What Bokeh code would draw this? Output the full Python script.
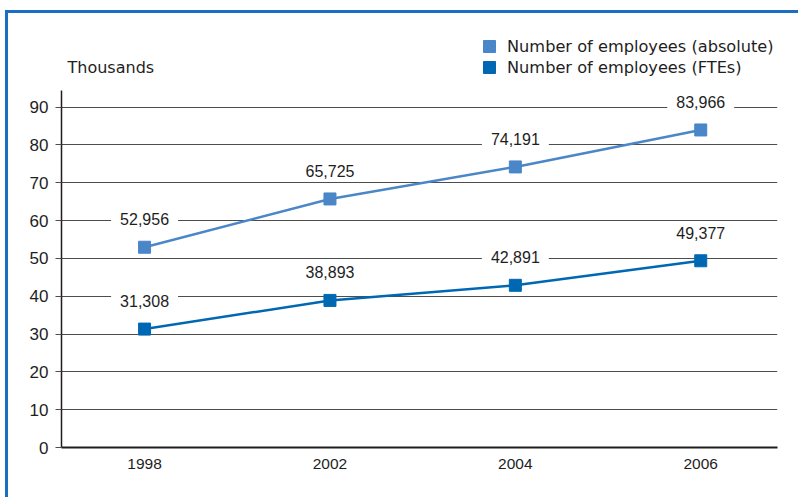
from bokeh.plotting import figure
from bokeh.models import (ColumnDataSource, Label, Legend, LegendItem,
                          FixedTicker, Range1d, InlineStyleSheet)
from bokeh.embed import file_html
from bokeh.resources import INLINE

years = ["1998", "2002", "2004", "2006"]
absolute = [52.956, 65.725, 74.191, 83.966]   # thousands
fte = [31.308, 38.893, 42.891, 49.377]         # thousands
y_ticks = [0, 10, 20, 30, 40, 50, 60, 70, 80, 90]
series_names = ["Number of employees (absolute)", "Number of employees (FTEs)"]
unit_label = "Thousands"

LIGHT = "#4a86c8"
DARK = "#0068b3"
TEXT = "#1e1e1e"
FRAME_BLUE = "#1a6fc4"

idx = list(range(len(years)))
src_abs = ColumnDataSource(dict(x=idx, y=absolute))
src_fte = ColumnDataSource(dict(x=idx, y=fte))

p = figure(width=798, height=497,
           x_range=Range1d(-0.448, 3.414), y_range=Range1d(0, 118.2),
           output_backend="svg", toolbar_location=None,
           min_border_left=61, min_border_right=21,
           min_border_top=0, min_border_bottom=50)
p.border_fill_color = None
p.background_fill_color = None
p.outline_line_color = None
p.stylesheets = [InlineStyleSheet(css=f""":host {{
  background:
    linear-gradient({FRAME_BLUE}, {FRAME_BLUE}) 5px 10px / 100% 3px no-repeat,
    linear-gradient({FRAME_BLUE}, {FRAME_BLUE}) 5px 10px / 3px 100% no-repeat,
    white;
}}""")]

# grid
p.xgrid.grid_line_color = None
p.ygrid.ticker = FixedTicker(ticks=y_ticks)
p.ygrid.grid_line_color = "#4d4d4d"
p.ygrid.grid_line_width = 1

# y axis
p.yaxis.ticker = FixedTicker(ticks=y_ticks)
p.yaxis.bounds = (0, 94.5)
p.yaxis.major_tick_out = 6
p.yaxis.major_tick_in = 0
p.yaxis.minor_tick_line_color = None
p.yaxis.axis_line_color = TEXT
p.yaxis.axis_line_width = 1.5
p.yaxis.major_tick_line_color = "#4d4d4d"
p.yaxis.major_label_text_font = "Liberation Sans"
p.yaxis.major_label_text_font_size = "17px"
p.yaxis.major_label_text_color = TEXT
p.yaxis.major_label_standoff = 7

# x axis
p.xaxis.ticker = FixedTicker(ticks=idx)
p.xaxis.major_label_overrides = {i: y for i, y in zip(idx, years)}
p.xaxis.major_tick_out = 0
p.xaxis.major_tick_in = 0
p.xaxis.minor_tick_line_color = None
p.xaxis.axis_line_color = TEXT
p.xaxis.axis_line_width = 2
p.xaxis.major_label_text_font = "Liberation Sans"
p.xaxis.major_label_text_font_size = "15.5px"
p.xaxis.major_label_text_color = TEXT
p.xaxis.major_label_standoff = 11

# series
p.line("x", "y", source=src_abs, line_color=LIGHT, line_width=2.5)
r_abs = p.scatter("x", "y", source=src_abs, marker="square", size=12,
                  fill_color=LIGHT, line_color=LIGHT)
p.line("x", "y", source=src_fte, line_color=DARK, line_width=2.5)
r_fte = p.scatter("x", "y", source=src_fte, marker="square", size=12,
                  fill_color=DARK, line_color=DARK)

# value labels (white boxes interrupt the grid lines)
for series in (absolute, fte):
    for i, v in zip(idx, series):
        p.add_layout(Label(x=i, y=v, y_offset=28, text=f"{round(v * 1000):,}",
                           text_align="center", text_baseline="middle",
                           text_font="Liberation Sans", text_font_size="16px",
                           text_color=TEXT, background_fill_color="white",
                           padding=dict(x=9, y=3)))

p.add_layout(Label(x=6, y=380, x_units="screen", y_units="screen", text=unit_label,
                   text_font="DejaVu Sans", text_font_size="16px",
                   text_color=TEXT, text_baseline="middle"))

# one legend block per series so the rows sit close together
for name, rend, vy in zip(series_names, (r_abs, r_fte), (386, 365)):
    p.add_layout(Legend(items=[LegendItem(label=name, renderers=[rend])],
                        location=(413, vy), orientation="vertical",
                        glyph_width=30, glyph_height=30, label_standoff=3,
                        padding=0, margin=0, border_line_color=None,
                        background_fill_alpha=0, label_height=20,
                        label_text_font="DejaVu Sans", label_text_font_size="16.2px",
                        label_text_color=TEXT))

open("out.html", "w").write(file_html(p, INLINE))
